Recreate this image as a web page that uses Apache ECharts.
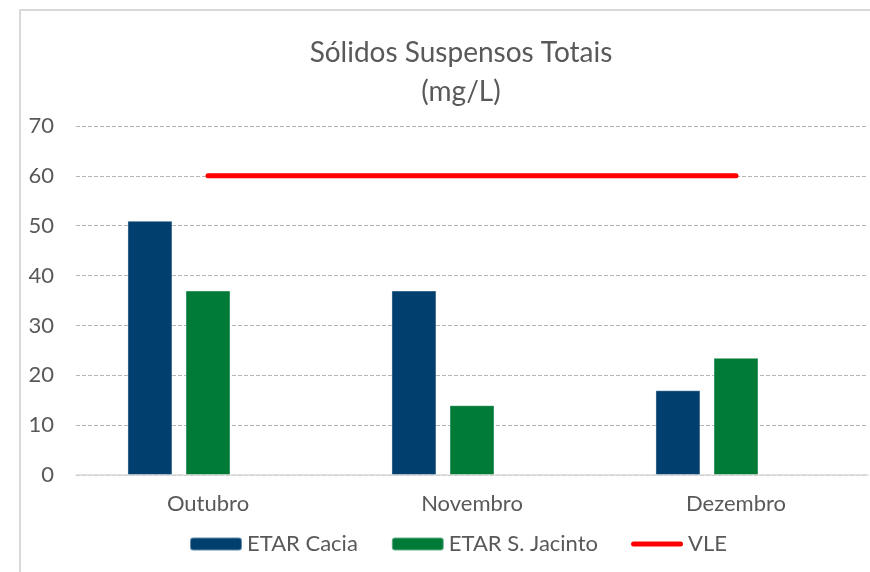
<!DOCTYPE html>
<html>
<head>
<meta charset="utf-8">
<script src="https://cdn.jsdelivr.net/npm/echarts@6/dist/echarts.min.js"></script>
<style>
html,body{margin:0;padding:0;background:#fff;}
#chart{width:870px;height:572px;}
</style>
</head>
<body>
<div id="chart"></div>
<script>
const categories = ['Outubro', 'Novembro', 'Dezembro'];
const cacia = [51, 37, 17];
const jacinto = [37, 14, 23.5];
const vle = [60, 60, 60];
const spacer = [null, null, null];
const yTicks = { min: 0, max: 70, interval: 10 };

const FONT = 'Lato';
const TXT = '#595959';

const chart = echarts.init(document.getElementById('chart'));
chart.setOption({
  animation: false,
  backgroundColor: '#fff',
  textStyle: { fontFamily: FONT },
  graphic: [{
    type: 'rect',
    shape: { x: 20, y: 10, width: 880, height: 620 },
    style: { fill: 'none', stroke: '#d9d9d9', lineWidth: 2 },
    silent: true, z: -10
  }],
  title: {
    text: 'Sólidos Suspensos Totais\n(mg/L)',
    left: 456, top: 28, textAlign: 'center',
    textStyle: { fontFamily: FONT, fontSize: 28, fontWeight: 'normal', color: TXT, lineHeight: 39 }
  },
  legend: {
    data: [
      { name: 'ETAR Cacia' },
      { name: 'ETAR S. Jacinto' },
      { name: 'VLE', icon: 'path://M2.5,0 L49.5,0 A2.5,2.5 0 0 1 49.5,5 L2.5,5 A2.5,2.5 0 0 1 2.5,0 Z' }
    ],
    left: 184, top: 528,
    itemWidth: 52, itemHeight: 13, itemGap: 33,
    textStyle: { fontFamily: FONT, fontSize: 22, color: TXT }
  },
  grid: { left: 76, right: 2, top: 126, bottom: 97, containLabel: false },
  xAxis: {
    type: 'category', data: categories,
    axisLine: { lineStyle: { color: '#d9d9d9', width: 1.5 } },
    axisTick: { show: false },
    axisLabel: { fontFamily: FONT, fontSize: 22, color: TXT, margin: 18 }
  },
  yAxis: {
    type: 'value', min: yTicks.min, max: yTicks.max, interval: yTicks.interval,
    axisLine: { show: false }, axisTick: { show: false },
    axisLabel: { fontFamily: FONT, fontSize: 22, color: TXT, margin: 22 },
    splitLine: { lineStyle: { color: '#b5b5b5', type: [4, 2], width: 1 } }
  },
  series: [
    { name: 'ETAR Cacia', type: 'bar', data: cacia, barWidth: 45, barGap: '29%',
      itemStyle: { color: '#003f6e', borderColor: 'rgba(255,255,255,0.4)', borderWidth: 1 } },
    { name: 'ETAR S. Jacinto', type: 'bar', data: jacinto, barWidth: 45, barGap: '29%',
      itemStyle: { color: '#007a37', borderColor: 'rgba(255,255,255,0.4)', borderWidth: 1 } },
    { name: 'spacer', type: 'bar', data: spacer, barWidth: 45, barGap: '29%', silent: true },
    { name: 'VLE', type: 'line', data: vle, symbol: 'none', z: 5,
      lineStyle: { color: '#ff0000', width: 5, cap: 'round' },
      itemStyle: { color: '#ff0000' } }
  ]
});
</script>
</body>
</html>
